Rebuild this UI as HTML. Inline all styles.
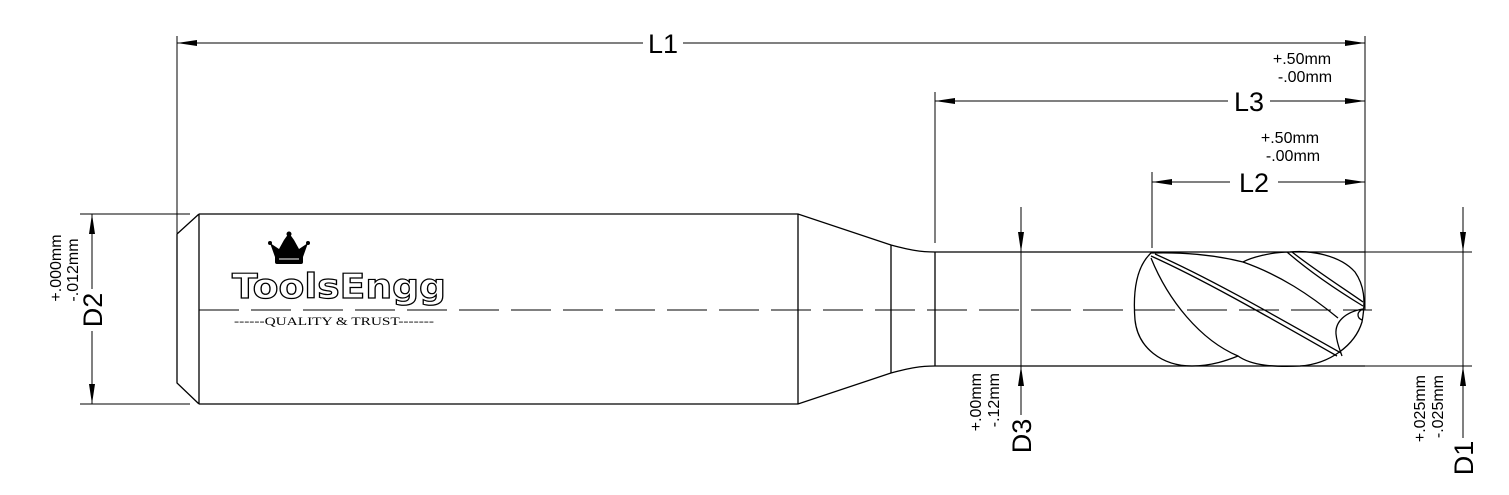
<!DOCTYPE html>
<html><head><meta charset="utf-8"><style>
html,body{margin:0;padding:0;background:#fff;}
svg{display:block;}
text{font-family:"Liberation Sans",Arial,sans-serif;fill:#000;}
</style></head><body>
<svg width="1509" height="495" viewBox="0 0 1509 495" xmlns="http://www.w3.org/2000/svg">
<defs>
<marker id="a" viewBox="0 0 20 8" refX="20" refY="4" markerWidth="20" markerHeight="8" markerUnits="userSpaceOnUse" orient="auto-start-reverse"><path d="M0,1 L20,4 L0,7 Z" fill="#000"/></marker>
</defs>
<g stroke="#000" stroke-width="1.3" fill="none">
<path d="M199,214 L798,214 L891,245 C910,250 920,252 935,252 L1365,252"/>
<path d="M199,404 L798,404 L891,373 C910,368 920,366 935,366 L1365,366"/>
<path d="M199,214 L199,404 M177,234 L199,214 M177,234 L177,383 L199,404"/>
<path d="M798,214 L798,404 M891,245 L891,373 M935,252 L935,366"/>
<path d="M199,310 L1372,310" stroke-dasharray="40,12" stroke-width="1"/>
<path d="M1151,253 C1135,268 1133,295 1135,320 C1138,348 1162,366 1192,366 C1212,366 1228,360 1238,356 C1252,366 1275,367 1300,366 C1330,364 1355,345 1362,322 C1366,300 1364,285 1355,272 C1340,255 1310,250 1290,252 C1270,252 1250,258 1243,262 C1215,255 1185,252 1151,253 Z"/>
<path d="M1151,256 C1200,278 1260,312 1337,356"/>
<path d="M1155,254 C1205,276 1265,310 1341,353"/>
<path d="M1151,258 C1168,300 1200,340 1238,356"/>
<path d="M1243,262 C1280,275 1310,295 1338,318"/>
<path d="M1287,252 C1310,272 1340,292 1363,306"/>
<path d="M1292,252 C1315,270 1343,288 1363,302"/>
<path d="M1363,309 C1345,312 1335,322 1336,334 C1337,344 1340,350 1342,356"/>
<path d="M1363,309 C1356,312 1357,318 1362,320"/>
</g>
<g stroke="#000" stroke-width="1" fill="none">
<path d="M177,36 L177,234 M1365,36 L1365,310 M935,92 L935,243 M1152,172 L1152,248"/>
<path d="M80,214 L190,214 M80,404 L190,404"/>
<path d="M1365,252 L1472,252 M1365,366 L1472,366"/>
<path d="M177,43 L643,43" marker-start="url(#a)"/>
<path d="M683,43 L1365,43" marker-end="url(#a)"/>
<path d="M935,101 L1228,101" marker-start="url(#a)"/>
<path d="M1270,101 L1365,101" marker-end="url(#a)"/>
<path d="M1152,182 L1230,182" marker-start="url(#a)"/>
<path d="M1278,182 L1365,182" marker-end="url(#a)"/>
<path d="M92,214 L92,289" marker-start="url(#a)"/>
<path d="M92,331 L92,404" marker-end="url(#a)"/>
<path d="M1021,207 L1021,252" marker-end="url(#a)"/>
<path d="M1021,252 L1021,366"/>
<path d="M1021,366 L1021,415" marker-start="url(#a)"/>
<path d="M1463,207 L1463,252" marker-end="url(#a)"/>
<path d="M1463,252 L1463,366"/>
<path d="M1463,366 L1463,438" marker-start="url(#a)"/>
</g>
<g font-size="27">
<text x="663" y="53" text-anchor="middle">L1</text>
<text x="1249" y="111" text-anchor="middle">L3</text>
<text x="1254" y="192" text-anchor="middle">L2</text>
<text transform="translate(102,310) rotate(-90)" text-anchor="middle">D2</text>
<text transform="translate(1031,436) rotate(-90)" text-anchor="middle">D3</text>
<text transform="translate(1473,458) rotate(-90)" text-anchor="middle">D1</text>
</g>
<g font-size="16">
<text x="1302" y="64" text-anchor="middle">+.50mm</text>
<text x="1305" y="82" text-anchor="middle">-.00mm</text>
<text x="1290" y="143" text-anchor="middle">+.50mm</text>
<text x="1293" y="161" text-anchor="middle">-.00mm</text>
<text transform="translate(61,268) rotate(-90)" text-anchor="middle">+.000mm</text>
<text transform="translate(78,270) rotate(-90)" text-anchor="middle">-.012mm</text>
<text transform="translate(981,373) rotate(-90)" text-anchor="end">+.00mm</text>
<text transform="translate(999,373) rotate(-90)" text-anchor="end">-.12mm</text>
<text transform="translate(1425,375) rotate(-90)" text-anchor="end">+.025mm</text>
<text transform="translate(1443,375) rotate(-90)" text-anchor="end">-.025mm</text>
</g>
<g>
<path d="M275,257 L270,243 L279,249 L284,240 L289,233 L294,240 L299,249 L308,243 L303,257 Z" fill="#000"/>
<circle cx="289" cy="234" r="2.5" fill="#000"/>
<circle cx="270" cy="243" r="2" fill="#000"/>
<circle cx="308" cy="243" r="2" fill="#000"/>
<rect x="275" y="255" width="28" height="9" rx="2" fill="#000"/>
<path d="M279,259 L299,259" stroke="#fff" stroke-width="1"/>
<text x="339" y="298" text-anchor="middle" font-size="34" font-weight="bold" style="fill:#fff;stroke:#000;stroke-width:1.2;font-family:'DejaVu Sans','Liberation Sans',sans-serif;" textLength="214" lengthAdjust="spacingAndGlyphs">ToolsEngg</text>
<text x="334" y="325" text-anchor="middle" font-size="12" style="font-family:'Liberation Serif',serif;" textLength="200" lengthAdjust="spacingAndGlyphs">------QUALITY &amp; TRUST-------</text>
</g>
</svg>
</body></html>
